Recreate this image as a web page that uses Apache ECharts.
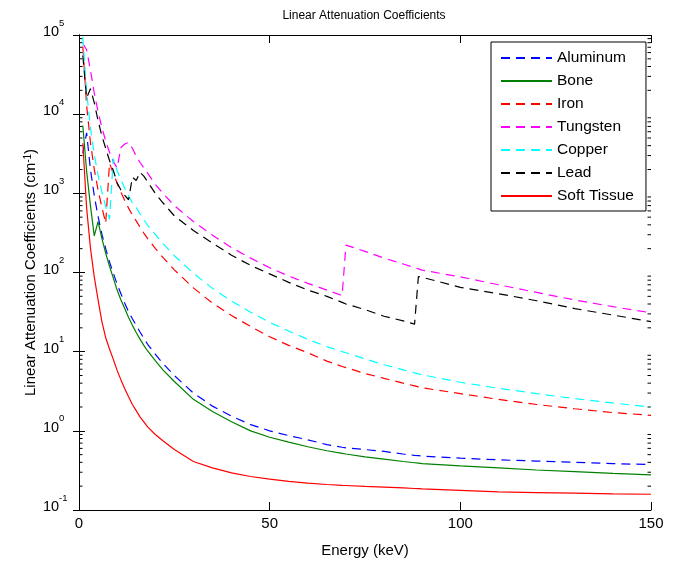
<!DOCTYPE html>
<html>
<head>
<meta charset="utf-8">
<script src="https://cdn.jsdelivr.net/npm/echarts@6/dist/echarts.min.js"></script>
<title>Linear Attenuation Coefficients</title>
<style>
    html, body { margin: 0; padding: 0; background: #fff; }
    #chart { width: 675px; height: 562px; }
</style>
</head>
<body>
<div id="chart"></div>
<script type="text/javascript">
    // energies (keV)
    var energy = [1, 2, 3, 4, 5, 6, 7, 8, 9, 10,
        11, 12, 13, 14, 15, 16, 17, 18, 20, 22,
        25, 30, 35, 40, 45, 50, 55, 60, 65, 69,
        70, 75, 80, 85, 88, 89, 90, 100, 110, 120,
        130, 140, 150];

    // linear attenuation coefficients (cm^-1)
    var aluminum = [3200, 5800, 2000, 940, 510, 305, 200, 136, 98, 71,
        54, 41, 32, 26, 21.5, 17.7, 14.7, 12.4, 9.3, 7.1,
        5.0, 3.0, 2.05, 1.53, 1.2, 1.0, 0.87, 0.77, 0.67, 0.62,
        0.61, 0.58, 0.55, 0.51, 0.49, 0.485, 0.48, 0.452, 0.43, 0.415,
        0.40, 0.385, 0.375];
    var bone = [7200, 1900, 700, 290, 440, 270, 175, 120, 85, 60,
        45, 35, 27, 21.5, 17.5, 14.4, 12, 10.2, 7.7, 5.9,
        4.2, 2.5, 1.75, 1.3, 1.0, 0.83, 0.72, 0.63, 0.56, 0.52,
        0.51, 0.47, 0.44, 0.41, 0.395, 0.39, 0.385, 0.36, 0.34, 0.32,
        0.305, 0.29, 0.278];
    var iron = [71500, 12800, 4390, 2020, 1100, 668, 420, 2400, 1780, 1340,
        1030, 810, 650, 530, 449, 375, 315, 268, 202, 155,
        108, 64, 41, 28.6, 20.8, 15.4, 12, 9.7, 7.6, 6.5,
        6.3, 5.3, 4.6, 4.0, 3.7, 3.6, 3.5, 2.95, 2.5, 2.15,
        1.9, 1.7, 1.57];
    var tungsten = [78000, 65000, 36000, 18500, 10700, 6800, 4600, 3300, 2500, 2100,
        3800, 4200, 4400, 3700, 2950, 2450, 2100, 1800, 1300, 1000,
        700, 440, 295, 206, 152, 115, 90, 73, 60, 51,
        222, 185, 152, 128, 115, 111, 107, 88, 70, 56,
        45, 37, 31];
    var copper = [94700, 19300, 6700, 3110, 1700, 1036, 680, 471, 2750, 1934,
        1480, 1160, 930, 760, 663, 550, 465, 395, 303, 232,
        163, 98, 63, 43.6, 31.5, 23.4, 18.2, 14.3, 11.6, 10,
        9.7, 8.1, 6.84, 5.9, 5.4, 5.25, 5.1, 4.11, 3.45, 2.95,
        2.55, 2.25, 1.99];
    var lead = [55000, 16000, 21000, 14000, 8300, 5300, 3700, 2600, 1950, 1350,
        1100, 940, 830, 1600, 1450, 1850, 1650, 1400, 1000, 760,
        520, 340, 235, 165, 123, 96, 75, 60, 50, 42,
        40, 34, 28, 24.5, 22.3, 89, 87, 65, 54, 44,
        35, 29, 24];
    var softTissue = [4300, 650, 205, 88, 45, 24, 15, 10.8, 8.0, 5.8,
        4.4, 3.4, 2.7, 2.15, 1.8, 1.5, 1.3, 1.12, 0.9, 0.75,
        0.58, 0.41, 0.34, 0.295, 0.265, 0.245, 0.23, 0.218, 0.21, 0.205,
        0.204, 0.199, 0.195, 0.19, 0.187, 0.186, 0.185, 0.177, 0.169, 0.166,
        0.163, 0.16, 0.158];

    var names = ['Aluminum', 'Bone', 'Iron', 'Tungsten', 'Copper', 'Lead', 'Soft Tissue'];
    var colors = ['#0000ff', '#008000', '#ff0000', '#ff00ff', '#00ffff', '#000000', '#ff0000'];
    var dashed = [true, false, true, true, true, true, false];
    var values = [aluminum, bone, iron, tungsten, copper, lead, softTissue];

    // minor tick positions of the log axis (2..9 x 10^k)
    var minorTicks = [];
    for (var k = -1; k < 5; k++) {
        for (var m = 2; m < 10; m++) {
            minorTicks.push([0, m * Math.pow(10, k)]);
        }
    }

    var font = 'Liberation Sans, Arial, sans-serif';

    function pairs(arr) {
        var out = [];
        for (var i = 0; i < energy.length; i++) {
            out.push([energy[i], arr[i]]);
        }
        return out;
    }

    var series = [];
    for (var i = 0; i < names.length; i++) {
        series.push({
            name: names[i],
            type: 'line',
            symbol: 'none',
            showSymbol: false,
            lineStyle: {
                color: colors[i],
                width: 1.2,
                type: dashed[i] ? [9, 6] : 'solid'
            },
            itemStyle: { color: colors[i] },
            data: pairs(values[i])
        });
    }

    series.push({
        name: 'minor',
        type: 'custom',
        silent: true,
        data: minorTicks,
        renderItem: function (params, api) {
            var y = api.coord([0, api.value(1)])[1];
            var cs = params.coordSys;
            return {
                type: 'group',
                children: [{
                    type: 'line',
                    shape: { x1: cs.x, y1: y, x2: cs.x + 3.5, y2: y },
                    style: { stroke: '#000', lineWidth: 1 }
                }, {
                    type: 'line',
                    shape: { x1: cs.x + cs.width - 3.5, y1: y, x2: cs.x + cs.width, y2: y },
                    style: { stroke: '#000', lineWidth: 1 }
                }]
            };
        }
    });

    var myChart = echarts.init(document.getElementById('chart'));
    var option = {
        animation: false,
        backgroundColor: '#fff',
        title: {
            text: 'Linear Attenuation Coefficients',
            left: 359,
            textAlign: 'center',
            top: 5,
            textStyle: { fontFamily: font, fontSize: 12, fontWeight: 'normal', color: '#000' }
        },
        legend: {
            data: names,
            orient: 'vertical',
            left: 491,
            top: 42,
            padding: [8, 12, 7, 9],
            itemGap: 7,
            itemWidth: 51,
            itemHeight: 14,
            selectedMode: false,
            backgroundColor: '#fff',
            borderColor: '#000',
            borderWidth: 1,
            itemStyle: { opacity: 0 },
            textStyle: { fontFamily: font, fontSize: 15.5, color: '#000' }
        },
        grid: { left: 79, right: 24, top: 35, bottom: 52, outerBoundsMode: 'none' },
        xAxis: [{
            type: 'value',
            min: 0,
            max: 150,
            interval: 50,
            name: 'Energy (keV)',
            nameLocation: 'middle',
            nameGap: 33,
            nameMoveOverlap: false,
            nameTextStyle: { fontFamily: font, fontSize: 15, color: '#000' },
            axisLine: { lineStyle: { color: '#000', width: 1 } },
            axisTick: { inside: true, length: 8, lineStyle: { color: '#000' } },
            axisLabel: { fontFamily: font, fontSize: 15, color: '#000', margin: 6 },
            splitLine: { show: false }
        }, {
            type: 'value',
            position: 'top',
            min: 0,
            max: 150,
            interval: 50,
            axisLine: { lineStyle: { color: '#000', width: 1 } },
            axisTick: { inside: true, length: 8, lineStyle: { color: '#000' } },
            axisLabel: { show: false },
            splitLine: { show: false }
        }],
        yAxis: [{
            type: 'log',
            logBase: 10,
            min: 0.1,
            max: 100000,
            splitNumber: 6,
            name: '{n|Linear Attenuation Coefficients (cm}{s|-1}{n|)}',
            nameLocation: 'middle',
            nameGap: 41,
            nameMoveOverlap: false,
            nameTextStyle: {
                fontFamily: font,
                color: '#000',
                rich: {
                    n: { fontFamily: font, fontSize: 15, lineHeight: 15, padding: [6, 0, 0, 0], verticalAlign: 'bottom' },
                    s: { fontFamily: font, fontSize: 10, lineHeight: 10, verticalAlign: 'top' }
                }
            },
            axisLine: { lineStyle: { color: '#000', width: 1 } },
            axisTick: { inside: true, length: 6, lineStyle: { color: '#000' } },
            axisLabel: {
                margin: 36,
                align: 'left',
                padding: [0, 0, 10, 0],
                formatter: function (v) {
                    var e = Math.round(Math.log(v) / Math.LN10);
                    return '{e|' + e + '}\n{b|10}';
                },
                rich: {
                    b: { fontFamily: font, fontSize: 14.5, lineHeight: 14, color: '#000' },
                    e: { fontFamily: font, fontSize: 9.5, lineHeight: 4, color: '#000', padding: [0, 0, 0, 16] }
                }
            },
            splitLine: { show: false }
        }, {
            type: 'log',
            logBase: 10,
            position: 'right',
            min: 0.1,
            max: 100000,
            splitNumber: 6,
            axisLine: { lineStyle: { color: '#000', width: 1 } },
            axisTick: { inside: true, length: 6, lineStyle: { color: '#000' } },
            axisLabel: { show: false },
            splitLine: { show: false }
        }],
        series: series
    };

    myChart.setOption(option);
</script>
</body>
</html>
